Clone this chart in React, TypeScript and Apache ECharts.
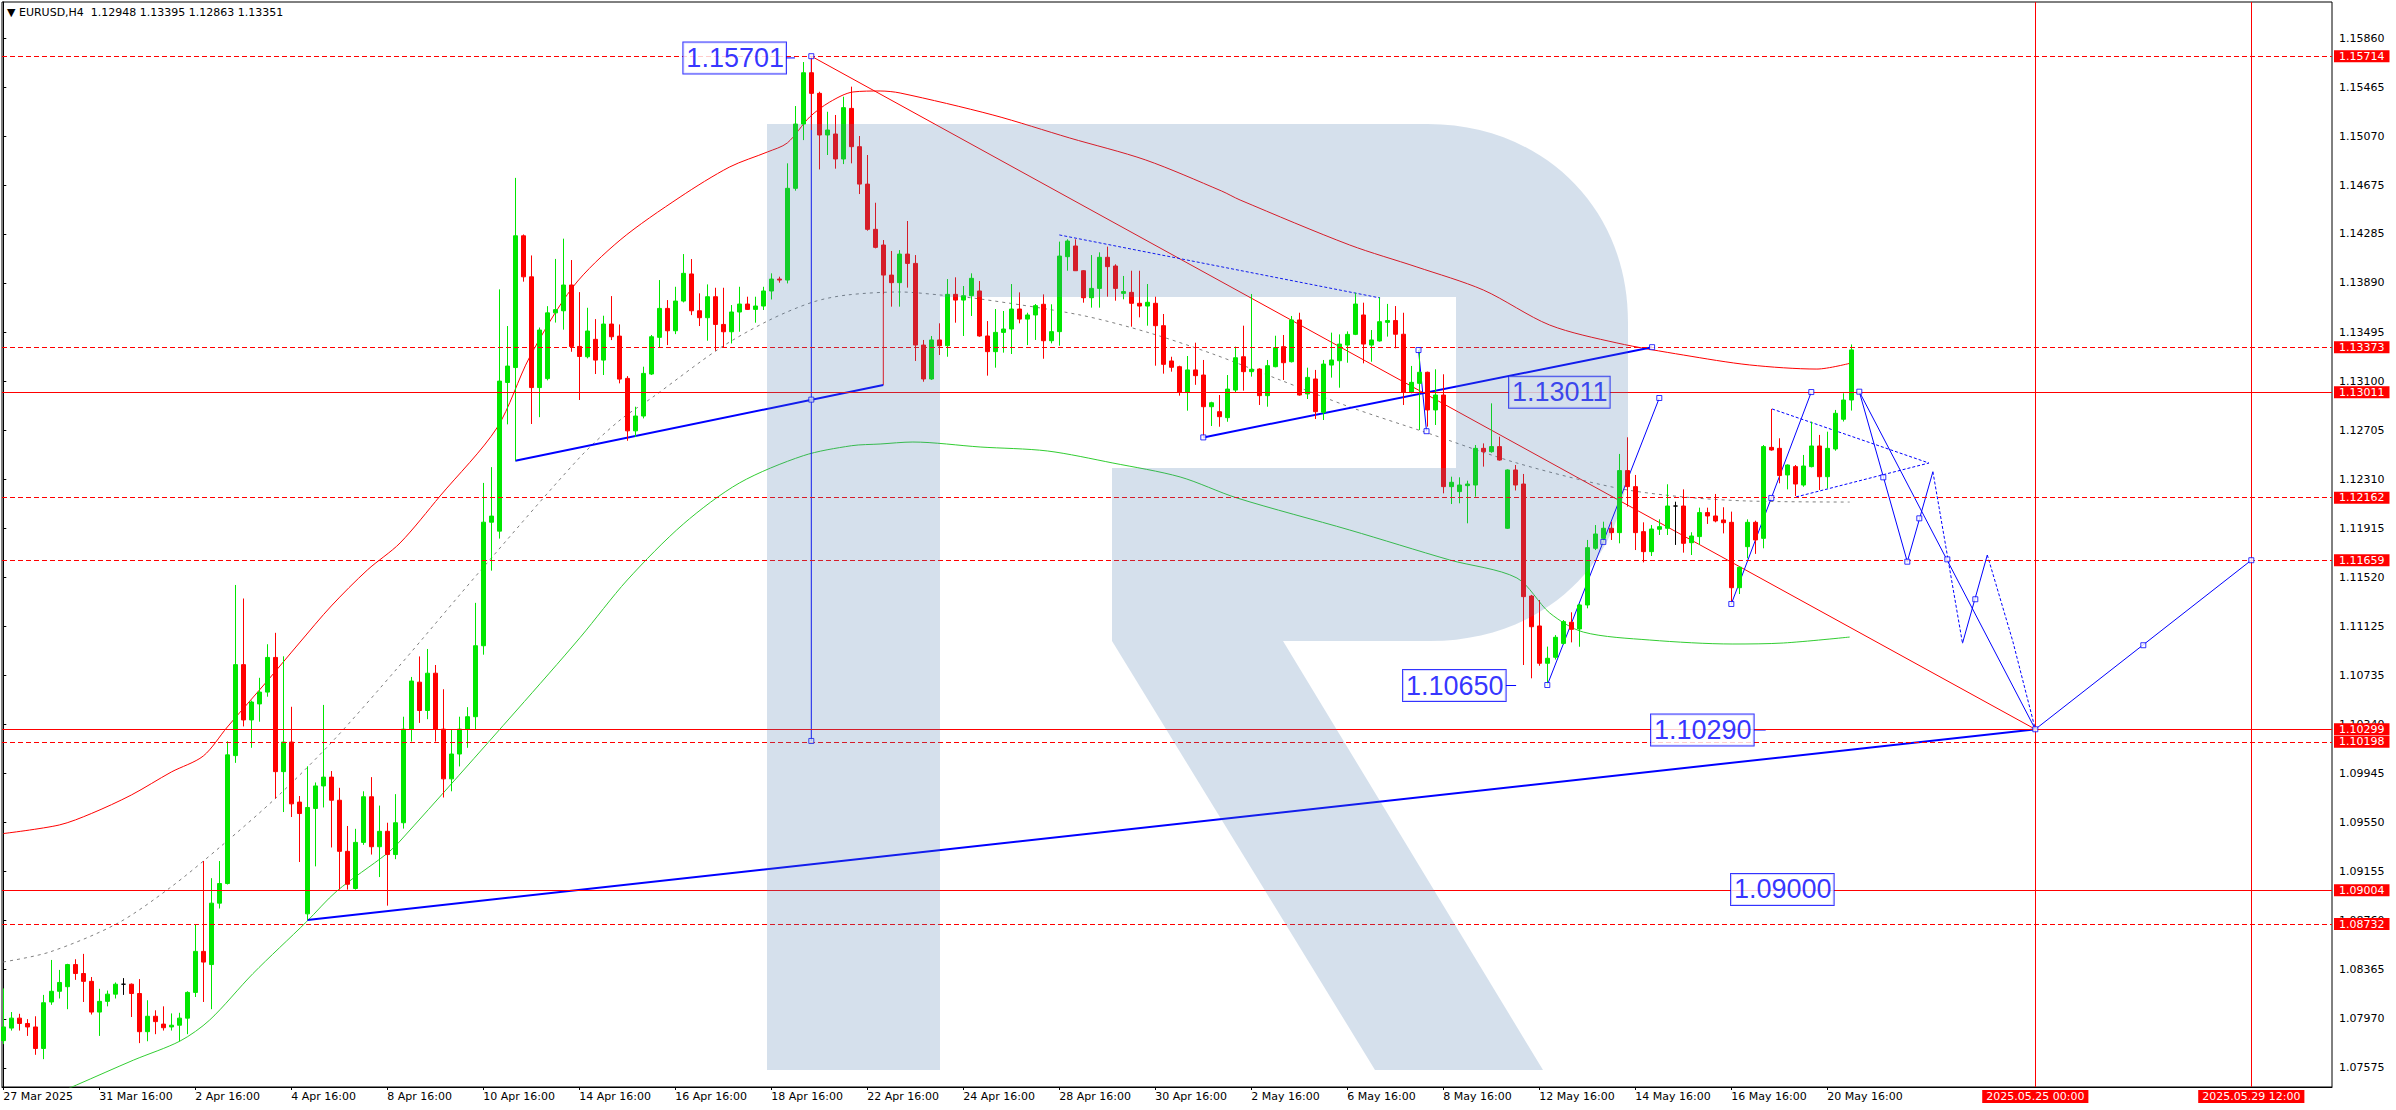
import React, { useEffect, useRef } from "react";
import * as echarts from "echarts";

const HEADER = "▼ EURUSD,H4  1.12948 1.13395 1.12863 1.13351";

// H4 bars, index 0 = first bar on the chart; each row = [open, high, low, close]
const ohlc: number[][] = [
  [1.07794, 1.08214, 1.07766, 1.07904], [1.07895, 1.08024, 1.07875, 1.07975], [1.07975, 1.0801, 1.07875, 1.07932],
  [1.07932, 1.07967, 1.07832, 1.07904], [1.07904, 1.0799, 1.0768, 1.07731], [1.07731, 1.08162, 1.07645, 1.08099],
  [1.08105, 1.08443, 1.08082, 1.08191], [1.08191, 1.08363, 1.08133, 1.08262], [1.08228, 1.08412, 1.08047, 1.08406],
  [1.08406, 1.08449, 1.08283, 1.08334], [1.08334, 1.08492, 1.08105, 1.08271], [1.08271, 1.08306, 1.08004, 1.08024],
  [1.08024, 1.08211, 1.07832, 1.0811], [1.0811, 1.08197, 1.0807, 1.08168], [1.08168, 1.08262, 1.08133, 1.08248],
  [1.08248, 1.08297, 1.08162, 1.08248], [1.08248, 1.08254, 1.07984, 1.08173], [1.08173, 1.08289, 1.07774, 1.07866],
  [1.07866, 1.08119, 1.07789, 1.0799], [1.0799, 1.08038, 1.07846, 1.07947], [1.07927, 1.0807, 1.07875, 1.07898],
  [1.07904, 1.08013, 1.07875, 1.07918], [1.07918, 1.08018, 1.07789, 1.07975], [1.07975, 1.08191, 1.07846, 1.08182],
  [1.08182, 1.08728, 1.08145, 1.08512], [1.08512, 1.09239, 1.08105, 1.08426], [1.08406, 1.09101, 1.08047, 1.089],
  [1.089, 1.09239, 1.08857, 1.09058], [1.09058, 1.10202, 1.0905, 1.10093], [1.10087, 1.1146, 1.10029, 1.10819],
  [1.10819, 1.11351, 1.10322, 1.10374], [1.10374, 1.1053, 1.1015, 1.10518], [1.10503, 1.10713, 1.1036, 1.10598],
  [1.10598, 1.10983, 1.10561, 1.10877], [1.10877, 1.11075, 1.09742, 1.09958], [1.09958, 1.10886, 1.09633, 1.10196],
  [1.10196, 1.1048, 1.09593, 1.09699], [1.09713, 1.09762, 1.09231, 1.09621], [1.08814, 1.10001, 1.08765, 1.0967],
  [1.09662, 1.09871, 1.09196, 1.09843], [1.09843, 1.10495, 1.0967, 1.09914], [1.09914, 1.09963, 1.09348, 1.09728],
  [1.09728, 1.09828, 1.09009, 1.09317], [1.09317, 1.09521, 1.09009, 1.09052], [1.09018, 1.09498, 1.09009, 1.09389],
  [1.09389, 1.098, 1.09369, 1.09756], [1.09756, 1.09914, 1.09291, 1.09354], [1.09354, 1.09685, 1.0911, 1.09478],
  [1.09478, 1.09547, 1.0888, 1.09291], [1.09291, 1.09777, 1.09254, 1.09547], [1.09547, 1.104, 1.095, 1.103],
  [1.103, 1.1072, 1.102, 1.10687], [1.10678, 1.10885, 1.1035, 1.1045], [1.1045, 1.10945, 1.1038, 1.1075],
  [1.1075, 1.10816, 1.102, 1.103], [1.103, 1.10621, 1.0975, 1.099], [1.099, 1.103, 1.098, 1.101],
  [1.101, 1.104, 1.1, 1.103], [1.103, 1.10477, 1.1015, 1.104], [1.104, 1.11316, 1.103, 1.10971],
  [1.10971, 1.12281, 1.10899, 1.11965], [1.11965, 1.12408, 1.11575, 1.12014], [1.11893, 1.13838, 1.11833, 1.131],
  [1.13089, 1.13543, 1.12752, 1.13221], [1.13209, 1.14735, 1.1246, 1.14269], [1.14269, 1.1428, 1.139, 1.13939],
  [1.13939, 1.14111, 1.12755, 1.13048], [1.13048, 1.13531, 1.1281, 1.13511], [1.1312, 1.13703, 1.13106, 1.13649],
  [1.13649, 1.14083, 1.13571, 1.13675], [1.13666, 1.14246, 1.13514, 1.13873], [1.13873, 1.14074, 1.13336, 1.13379],
  [1.13379, 1.13816, 1.12948, 1.13298], [1.13296, 1.1369, 1.13283, 1.13503], [1.13436, 1.13599, 1.13157, 1.13269],
  [1.13269, 1.13626, 1.13149, 1.13559], [1.13559, 1.13784, 1.1343, 1.13457], [1.13462, 1.13556, 1.13082, 1.13116],
  [1.13122, 1.1314, 1.1262, 1.127], [1.127, 1.12894, 1.1265, 1.12819], [1.12819, 1.13216, 1.128, 1.13162],
  [1.13157, 1.13471, 1.13149, 1.13457], [1.13452, 1.13913, 1.13371, 1.13685], [1.13685, 1.13752, 1.1339, 1.13505],
  [1.13505, 1.13859, 1.13478, 1.13744], [1.13744, 1.14122, 1.13733, 1.13967], [1.13962, 1.14082, 1.13631, 1.13666],
  [1.13666, 1.13806, 1.13543, 1.1361], [1.1361, 1.13878, 1.13425, 1.13779], [1.13779, 1.13851, 1.13344, 1.13556],
  [1.13556, 1.13851, 1.13371, 1.13497], [1.13497, 1.13712, 1.13403, 1.13656], [1.13656, 1.13859, 1.13497, 1.1372],
  [1.1372, 1.13779, 1.13672, 1.13677], [1.13677, 1.13779, 1.1357, 1.13704], [1.13704, 1.13859, 1.13672, 1.13825],
  [1.13825, 1.13967, 1.13757, 1.13921], [1.13921, 1.1394, 1.13892, 1.13913], [1.13913, 1.14852, 1.13886, 1.14651],
  [1.14651, 1.15313, 1.14632, 1.15168], [1.15168, 1.15667, 1.15039, 1.15581], [1.15581, 1.15714, 1.1512, 1.15415],
  [1.15415, 1.15428, 1.14803, 1.1508], [1.1508, 1.15267, 1.14919, 1.1512], [1.15088, 1.15241, 1.14809, 1.14887],
  [1.14887, 1.15388, 1.14846, 1.153], [1.15294, 1.15469, 1.14852, 1.14986], [1.14986, 1.15072, 1.14605, 1.14685],
  [1.14685, 1.14919, 1.1431, 1.14321], [1.14321, 1.14535, 1.14168, 1.14176], [1.14195, 1.14235, 1.138, 1.13953],
  [1.13953, 1.14147, 1.13699, 1.13892], [1.13892, 1.14154, 1.13699, 1.14122], [1.14122, 1.14388, 1.13852, 1.14047],
  [1.14047, 1.14114, 1.13262, 1.1339], [1.1339, 1.13431, 1.13095, 1.13117], [1.13117, 1.13463, 1.1311, 1.13431],
  [1.13431, 1.13565, 1.1331, 1.13385], [1.13385, 1.13921, 1.13296, 1.13798], [1.13798, 1.13935, 1.1357, 1.13752],
  [1.13752, 1.13865, 1.13463, 1.13787], [1.13787, 1.13967, 1.13624, 1.13927], [1.13825, 1.13905, 1.13457, 1.13463],
  [1.13463, 1.13583, 1.13144, 1.13337], [1.13337, 1.1368, 1.13208, 1.13492], [1.13492, 1.13664, 1.13329, 1.13519],
  [1.13519, 1.13881, 1.13318, 1.1368], [1.1368, 1.13814, 1.13565, 1.13599], [1.13599, 1.1365, 1.1339, 1.13632],
  [1.13632, 1.1372, 1.13431, 1.13707], [1.13718, 1.13798, 1.1328, 1.13425], [1.13425, 1.13718, 1.13404, 1.13498],
  [1.13498, 1.14222, 1.13385, 1.14106], [1.14101, 1.14241, 1.13988, 1.14227], [1.14187, 1.14241, 1.13986, 1.13988],
  [1.13988, 1.13993, 1.13731, 1.13771], [1.13771, 1.14114, 1.13691, 1.13846], [1.13846, 1.14136, 1.13691, 1.14096],
  [1.14096, 1.14182, 1.13779, 1.14021], [1.14026, 1.1404, 1.13747, 1.13846], [1.13806, 1.13946, 1.13758, 1.1382],
  [1.13814, 1.13988, 1.13538, 1.13726], [1.13726, 1.13988, 1.13613, 1.13704], [1.13704, 1.13881, 1.13546, 1.13734],
  [1.13726, 1.13779, 1.13224, 1.13546], [1.13546, 1.1364, 1.1316, 1.13235], [1.13262, 1.13296, 1.13176, 1.13211],
  [1.13216, 1.13224, 1.12983, 1.1301], [1.1301, 1.13302, 1.12862, 1.1319], [1.1319, 1.13409, 1.1307, 1.13144],
  [1.13149, 1.1327, 1.12647, 1.12894], [1.12894, 1.12934, 1.12739, 1.12926], [1.12854, 1.12988, 1.12733, 1.12814],
  [1.12806, 1.13149, 1.12773, 1.13036], [1.13028, 1.13377, 1.1301, 1.13288], [1.13296, 1.13546, 1.13023, 1.13176],
  [1.13176, 1.13801, 1.13136, 1.13195], [1.13197, 1.13203, 1.12908, 1.12983], [1.12983, 1.1327, 1.12894, 1.13224],
  [1.13216, 1.13465, 1.13211, 1.13369], [1.13377, 1.13471, 1.13109, 1.13248], [1.13256, 1.13624, 1.1325, 1.13592],
  [1.13592, 1.1365, 1.12983, 1.12988], [1.12997, 1.13208, 1.12956, 1.1313], [1.13117, 1.1319, 1.12795, 1.12854],
  [1.12849, 1.1327, 1.12787, 1.13237], [1.13229, 1.1349, 1.13128, 1.1327], [1.13264, 1.13476, 1.13047, 1.13398],
  [1.1339, 1.135, 1.13248, 1.13476], [1.13476, 1.13811, 1.1347, 1.1372], [1.13632, 1.13731, 1.13243, 1.13398],
  [1.1339, 1.13511, 1.13256, 1.13431], [1.13423, 1.13774, 1.13418, 1.13578], [1.13573, 1.13721, 1.13458, 1.13587],
  [1.13587, 1.13704, 1.13364, 1.13477], [1.13477, 1.1365, 1.12908, 1.1301], [1.1301, 1.13222, 1.13002, 1.1309],
  [1.13082, 1.13364, 1.12707, 1.13171], [1.13171, 1.13176, 1.12734, 1.12868], [1.12868, 1.13195, 1.12747, 1.12988],
  [1.12988, 1.13155, 1.12197, 1.12251], [1.12251, 1.12331, 1.12111, 1.12286], [1.12211, 1.12326, 1.12117, 1.12264],
  [1.12259, 1.12299, 1.11956, 1.12272], [1.12264, 1.12586, 1.1217, 1.12559], [1.12559, 1.12599, 1.12412, 1.12532],
  [1.12532, 1.12921, 1.12524, 1.12573], [1.12573, 1.12653, 1.1246, 1.12465], [1.11916, 1.1239, 1.1191, 1.12385],
  [1.12385, 1.12425, 1.1222, 1.12264], [1.12272, 1.12353, 1.10816, 1.11366], [1.11371, 1.1138, 1.10709, 1.11124],
  [1.1113, 1.11339, 1.1081, 1.1083], [1.1083, 1.10964, 1.1065, 1.1087], [1.10878, 1.11057, 1.1086, 1.11039],
  [1.1099, 1.11178, 1.1098, 1.11165], [1.1116, 1.1124, 1.10998, 1.11103], [1.11106, 1.11312, 1.10963, 1.11299],
  [1.11299, 1.11822, 1.11272, 1.1176], [1.11755, 1.11942, 1.11741, 1.1187], [1.11835, 1.11969, 1.1181, 1.11916],
  [1.11916, 1.11969, 1.11822, 1.11881], [1.11881, 1.12514, 1.11795, 1.1238], [1.1238, 1.12648, 1.1209, 1.12251],
  [1.12251, 1.12345, 1.11741, 1.11881], [1.11889, 1.11964, 1.11642, 1.11728], [1.11728, 1.11942, 1.11693, 1.1191],
  [1.11908, 1.11988, 1.11862, 1.11929], [1.11916, 1.1227, 1.11862, 1.12095], [1.12095, 1.1213, 1.11782, 1.12095],
  [1.12095, 1.12229, 1.1172, 1.11795], [1.118, 1.11884, 1.11701, 1.11854], [1.11849, 1.12082, 1.11782, 1.12042],
  [1.12042, 1.12082, 1.11951, 1.12015], [1.12015, 1.12192, 1.11964, 1.11975], [1.11983, 1.12085, 1.11875, 1.11961],
  [1.11964, 1.1205, 1.11312, 1.11438], [1.11438, 1.1161, 1.11387, 1.11602], [1.11768, 1.11988, 1.11674, 1.11964],
  [1.11964, 1.11977, 1.1171, 1.11822], [1.11835, 1.12586, 1.11755, 1.12573], [1.12567, 1.12876, 1.1254, 1.12546],
  [1.12559, 1.1264, 1.12278, 1.1234], [1.12345, 1.1243, 1.12229, 1.12425], [1.12412, 1.12425, 1.12176, 1.12272],
  [1.12264, 1.12506, 1.1225, 1.12417], [1.12412, 1.12774, 1.12406, 1.12578], [1.12578, 1.12667, 1.12224, 1.12331],
  [1.12331, 1.12693, 1.12237, 1.12559], [1.12554, 1.12868, 1.1254, 1.12841], [1.12793, 1.13002, 1.12775, 1.12948],
  [1.12948, 1.13395, 1.12863, 1.13351],
];

const timeTickIdx = [0, 12, 24, 36, 48, 60, 72, 84, 96, 108, 120, 132, 144, 156, 168, 180, 192, 204, 216, 228];
const timeTickText = [
  "27 Mar 2025", "31 Mar 16:00", "2 Apr 16:00", "4 Apr 16:00", "8 Apr 16:00", "10 Apr 16:00", "14 Apr 16:00",
  "16 Apr 16:00", "18 Apr 16:00", "22 Apr 16:00", "24 Apr 16:00", "28 Apr 16:00", "30 Apr 16:00", "2 May 16:00",
  "6 May 16:00", "8 May 16:00", "12 May 16:00", "14 May 16:00", "16 May 16:00", "20 May 16:00",
];

const priceTicks = [
  1.1586, 1.15465, 1.1507, 1.14675, 1.14285, 1.1389, 1.13495, 1.131, 1.12705, 1.1231, 1.11915, 1.1152, 1.11125,
  1.10735, 1.1034, 1.09945, 1.0955, 1.09155, 1.0876, 1.08365, 1.0797, 1.07575,
];

const solidLevels = [1.13011, 1.10299, 1.09004];
const dashedLevels = [1.15714, 1.13373, 1.12162, 1.11659, 1.10198, 1.08732];
const currentPrice = 1.13351;

const futureIdx = [254, 281];
const futureText = ["2025.05.25 00:00", "2025.05.29 12:00"];

// indicator curves: [bar index, price]
const redMA = [
  [0, 1.0946], [7, 1.09529], [11, 1.09621], [16, 1.0977], [21, 1.09955], [25, 1.10084], [28, 1.10317], [33, 1.10688],
  [37, 1.10993], [41, 1.11291], [45.5, 1.1158], [49.6, 1.11798], [54.6, 1.12176], [61.7, 1.12723], [65.8, 1.13294],
  [71.2, 1.13857], [77.1, 1.14235], [84.6, 1.14581], [90.8, 1.14823], [95.5, 1.14943], [98, 1.15016], [100.8, 1.15225],
  [103.3, 1.15345], [106.2, 1.15426], [109.6, 1.15434], [112.1, 1.15418], [123.7, 1.15241], [133.3, 1.15056],
  [142.8, 1.14879], [152.3, 1.14629], [154.6, 1.14557], [168.3, 1.14195], [176.7, 1.14018], [185, 1.13833],
  [193.3, 1.13551], [201.7, 1.13407], [210, 1.1331], [218.3, 1.1323], [226.7, 1.13197], [231, 1.13246],
];
const greenMA = [
  [0, 1.0718], [9.15, 1.07437], [16.3, 1.07638], [22.1, 1.07791], [25.8, 1.0796], [31.2, 1.08333], [37.9, 1.0875],
  [41.7, 1.08998], [47.9, 1.09296], [49.6, 1.094], [64.2, 1.10454], [72.1, 1.11037], [78, 1.115], [85, 1.1195],
  [92, 1.1228], [100, 1.125], [106, 1.1258], [109.6, 1.12594], [113.7, 1.1261], [122.1, 1.1257], [130.5, 1.12538],
  [138.7, 1.12441], [147.1, 1.12329], [154.2, 1.1216], [168.3, 1.11902], [180.8, 1.11661], [189.2, 1.11516],
  [193.3, 1.11235], [197.5, 1.11081], [205.8, 1.11017], [216.2, 1.10985], [222.5, 1.10993], [230.8, 1.11041],
];
const grayMA = [
  [0, 1.08427], [5.8, 1.08507], [14.2, 1.08735], [20.8, 1.09022], [27.1, 1.09352], [34.2, 1.09754], [41.2, 1.10205],
  [49.6, 1.10816], [59.6, 1.11572], [72.1, 1.12489], [77.1, 1.12787], [81.2, 1.12972], [89.6, 1.13366],
  [95.8, 1.13592], [101.2, 1.13736], [105.5, 1.13793], [112.1, 1.13817], [117.1, 1.13793], [122.1, 1.13761],
  [134.6, 1.13632], [142.9, 1.13495], [151.2, 1.13318], [159.6, 1.13109], [168.3, 1.12892], [178, 1.12683],
  [189.2, 1.12441], [201.7, 1.1224], [210, 1.12168], [218.3, 1.12135], [230.8, 1.12127],
];

// drawn objects: [bar index, price]
const redTrend = [[101, 1.15714], [254, 1.10299]];
const redTick = [[110, 1.13069], [110, 1.1395]];
const blueThick = [
  [[38, 1.08765], [254, 1.10299]],
  [[64, 1.1246], [110, 1.13069]],
  [[150, 1.12647], [206.1, 1.13373]],
];
const blueThin = [
  [[101, 1.15714], [101, 1.10205]],
  [[176.9, 1.1335], [177.9, 1.12697]],
  [[193, 1.10655], [207, 1.12964]],
  [[216, 1.11307], [226, 1.13012]],
  [[232, 1.13015], [238, 1.11647], [241.2, 1.12371]],
  [[244.9, 1.10991], [248, 1.11701]],
  [[232, 1.13015], [254, 1.10299], [281, 1.11659]],
  [[97.84, 1.157], [98.96, 1.157]],
  [[187.8, 1.10651], [189.1, 1.10651]],
  [[218.8, 1.10293], [220.3, 1.10293]],
];
const blueDotted = [
  [[132, 1.14276], [172.1, 1.13769]],
  [[221.1, 1.12876], [240.7, 1.12441], [224.1, 1.12168]],
  [[241.2, 1.12371], [244.9, 1.10991]],
  [[248, 1.11701], [251.2, 1.11004], [254, 1.10299]],
];
const blueSquares = [
  [101, 1.15714], [101, 1.12951], [101, 1.10205], [150, 1.12647], [206.1, 1.13373], [176.9, 1.1335], [177.9, 1.12697],
  [193, 1.10655], [200, 1.11806], [207, 1.12964], [216, 1.11307], [221, 1.1216], [226, 1.13012], [232, 1.13015],
  [235, 1.12326], [238, 1.11647], [239.5, 1.11996], [243, 1.11666], [246.5, 1.11345], [254, 1.10299],
  [267.5, 1.10975], [281, 1.11659],
];
const boxLabelText = ["1.15701", "1.13011", "1.10650", "1.10290", "1.09000"];
const boxLabelAt = [[97.84, 1.157], [200.8, 1.13011], [187.8, 1.10651], [218.8, 1.10293], [228.8, 1.0901]];

const R_PATH =
  "M767 124 L1428 124 C1540 124 1628 205 1628 322 L1628 455 C1628 560 1545 641 1430 641 L1283 641 L1543 1070 L1375 1070 L1112 641 L1112 468 L1456 468 L1456 297 L940 297 L940 1070 L767 1070 Z";
echarts.graphic.registerShape("rLogo", echarts.graphic.extendPath(R_PATH, {}));

const GREEN = "#00e600";
const RED = "#ff0000";
const BLUE = "#0000ff";
const FONT = "DejaVu Sans";

function buildOption() {
  const candles = ohlc.map((r, i) => [i, r[0], r[3], r[2], r[1]]);
  const lineSeries = (data: number[][], color: string, width: number, type: any = "solid", smooth: any = false) => ({
    type: "line",
    data,
    symbol: "none",
    showSymbol: false,
    smooth,
    silent: true,
    clip: true,
    lineStyle: { color, width, type },
    z: 3,
  });
  const markItems: any[] = [];
  solidLevels.forEach((v) => markItems.push({ yAxis: v, label: { formatter: v.toFixed(5) } }));
  dashedLevels.forEach((v) =>
    markItems.push({ yAxis: v, lineStyle: { type: [5, 3] }, label: { formatter: v.toFixed(5) } })
  );
  futureIdx.forEach((x, i) =>
    markItems.push({
      xAxis: x,
      label: { position: "start", distance: 3, padding: [1, 4, 1, 4], formatter: futureText[i] },
    })
  );

  const series: any[] = [
    lineSeries(greenMA, "#32cd32", 1, "solid", 0.3),
    lineSeries(grayMA, "#808080", 1, [3, 4], 0.3),
    {
      ...lineSeries(redMA, RED, 1, "solid", 0.3),
      markLine: {
        silent: true,
        precision: 5,
        symbol: ["none", "none"],
        lineStyle: { opacity: 0 },
        label: {
          show: true,
          position: "end",
          distance: 2,
          color: "#fff",
          backgroundColor: "#000",
          padding: [1, 5, 2, 5],
          lineHeight: 11,
          fontSize: 11,
          fontFamily: FONT,
        },
        data: [{ yAxis: currentPrice, label: { formatter: currentPrice.toFixed(5) } }],
      },
    },
    {
      type: "candlestick",
      data: candles,
      barWidth: 4,
      z: 4,
      itemStyle: {
        color: GREEN,
        color0: RED,
        borderColor: GREEN,
        borderColor0: RED,
        borderColorDoji: "#000",
        borderWidth: 1,
      },
      markLine: {
        silent: true,
        precision: 5,
        symbol: ["none", "none"],
        z: 6,
        lineStyle: { color: RED, width: 1, type: "solid" },
        label: {
          show: true,
          position: "end",
          distance: 2,
          color: "#fff",
          backgroundColor: RED,
          padding: [1, 5, 0, 5],
          lineHeight: 11,
          fontSize: 11,
          fontFamily: FONT,
        },
        emphasis: { disabled: true },
        data: markItems,
      },
    },
    lineSeries(redTrend, RED, 1),
    lineSeries(redTick, RED, 1),
    ...blueThick.map((d) => lineSeries(d, BLUE, 2)),
    ...blueThin.map((d) => lineSeries(d, BLUE, 1)),
    ...blueDotted.map((d) => lineSeries(d, BLUE, 1, [3, 2])),
    {
      type: "scatter",
      data: blueSquares,
      symbol: "rect",
      symbolSize: 5,
      silent: true,
      z: 7,
      itemStyle: { color: "#fff", borderColor: BLUE, borderWidth: 1 },
    },
    {
      type: "scatter",
      data: boxLabelAt.map((p, i) => ({ value: p, name: boxLabelText[i] })),
      symbol: "rect",
      symbolSize: 0.1,
      silent: true,
      z: 8,
      itemStyle: { color: "transparent" },
      label: {
        show: true,
        position: "left",
        distance: 0,
        formatter: "{b}",
        color: BLUE,
        fontFamily: "Liberation Sans",
        fontSize: 27,
        lineHeight: 28,
        backgroundColor: "#fff",
        borderColor: BLUE,
        borderWidth: 1,
        padding: [2, 2, 1, 3],
      },
    },
  ];

  return {
    animation: false,
    backgroundColor: "#fff",
    textStyle: { fontFamily: FONT },
    title: {
      text: HEADER,
      left: 7,
      top: 7,
      padding: 0,
      textStyle: { fontSize: 11, fontWeight: "normal", fontFamily: FONT, color: "#000" },
    },
    grid: {
      left: 2,
      right: 64,
      top: 2,
      bottom: 23,
      show: true,
      borderColor: "#000",
      borderWidth: 1,
      backgroundColor: "#fff",
      containLabel: false,
      outerBoundsMode: "none",
    },
    xAxis: {
      type: "value",
      min: -0.1625,
      max: 291.0875,
      splitLine: { show: false },
      axisLine: { show: true, lineStyle: { color: "#000", width: 1 } },
      axisTick: { show: true, length: 3, customValues: timeTickIdx, lineStyle: { color: "#000" } },
      axisLabel: {
        customValues: timeTickIdx,
        formatter: (v: number) => timeTickText[timeTickIdx.indexOf(Math.round(v))] || "",
        align: "left",
        margin: 4,
        fontSize: 11,
        color: "#000",
        fontFamily: FONT,
      },
    },
    yAxis: {
      type: "value",
      position: "right",
      min: 1.07421,
      max: 1.1615,
      scale: true,
      splitLine: { show: false },
      axisLine: { show: true, lineStyle: { color: "#000", width: 1 } },
      axisTick: { show: true, length: 3, customValues: priceTicks, lineStyle: { color: "#000" } },
      axisLabel: {
        customValues: priceTicks,
        formatter: (v: number) => v.toFixed(5),
        margin: 7,
        fontSize: 11,
        color: "#000",
        fontFamily: FONT,
      },
    },
    graphic: [
      {
        type: "rLogo",
        x: 0,
        y: 0,
        silent: true,
        z: 50,
        style: { fill: "rgba(77,125,174,0.235)" },
      },
    ],
    series,
  };
}

export default function App() {
  const ref = useRef<HTMLDivElement>(null);
  useEffect(() => {
    if (!ref.current) return;
    const chart = echarts.init(ref.current, null, { renderer: "svg" });
    chart.setOption(buildOption() as any);
    return () => chart.dispose();
  }, []);
  return (
    <div
      ref={ref}
      style={{ position: "fixed", left: 0, top: 0, width: 2396, height: 1110, background: "#fff" }}
    />
  );
}
